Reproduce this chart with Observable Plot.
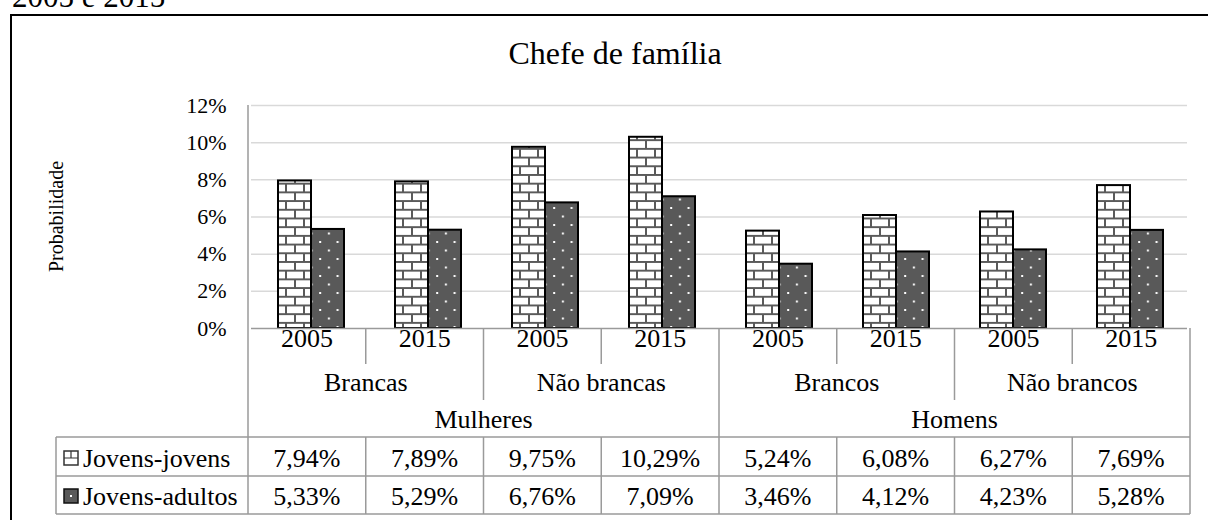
<!DOCTYPE html>
<html><head><meta charset="utf-8">
<script src="https://cdn.jsdelivr.net/npm/d3@7"></script>
<script src="https://cdn.jsdelivr.net/npm/@observablehq/plot@0.6"></script>
<style>
body{margin:0;background:#fff;}
#wrap{position:relative;width:1208px;height:520px;overflow:hidden;}
#wrap svg text{font-family:"Liberation Serif","Times New Roman",serif;}
</style></head><body><div id="wrap"></div>
<script>
// ---- data ----
const sexo = ["Mulheres","Mulheres","Mulheres","Mulheres","Homens","Homens","Homens","Homens"];
const raca = ["Brancas","Brancas","Não brancas","Não brancas","Brancos","Brancos","Não brancos","Não brancos"];
const anos = ["2005","2015","2005","2015","2005","2015","2005","2015"];
const series = ["Jovens-jovens","Jovens-adultos"];
const jovensJovens = [7.94, 7.89, 9.75, 10.29, 5.24, 6.08, 6.27, 7.69];
const jovensAdultos = [5.33, 5.29, 6.76, 7.09, 3.46, 4.12, 4.23, 5.28];
const yTicks = [0, 2, 4, 6, 8, 10, 12];
const titulo = "Chefe de família";
const yLabel = "Probabilidade";
const topoTexto = "2005 e 2015";

const keys = anos.map((a, i) => `${sexo[i]}|${raca[i]}|${a}`);
const rows = [];
keys.forEach((k, i) => {
  rows.push({key: k, serie: series[0], value: jovensJovens[i]});
  rows.push({key: k, serie: series[1], value: jovensAdultos[i]});
});

const W = 1208, H = 520, mL = 248, mR = 18, mT = 105, mB = 192;
const FONT = '"Liberation Serif", "Times New Roman", serif';
const LINE = "#9a9a9a";

const chart = Plot.plot({
  width: W, height: H,
  marginLeft: mL, marginRight: mR, marginTop: mT, marginBottom: mB,
  style: {fontFamily: FONT, fontSize: "22px", color: "#000", background: "transparent", overflow: "visible"},
  facet: {data: rows, x: "key"},
  fx: {domain: keys, padding: 0, axis: null, label: null},
  x: {domain: series, paddingInner: 0, paddingOuter: 0.73, align: 0.52, axis: null},
  y: {domain: [0, 12], ticks: yTicks, tickFormat: d => d + "%", tickSize: 0, tickPadding: 25, label: null},
  marks: [
    Plot.ruleY(yTicks.filter(d => d > 0), {stroke: "#d9d9d9", strokeWidth: 1.5}),
    Plot.barY(rows, {filter: d => d.serie === series[0], x: "serie", y: "value", fill: "url(#brick)", stroke: "#000", strokeWidth: 2}),
    Plot.barY(rows, {filter: d => d.serie === series[1], x: "serie", y: "value", fill: "url(#dots)", stroke: "#000", strokeWidth: 2}),
    Plot.ruleY([0], {stroke: LINE, strokeWidth: 1.5})
  ]
});
document.getElementById("wrap").appendChild(chart);

const svg = d3.select(chart);
// patterns
const defs = svg.insert("defs", ":first-child");
const pb = defs.append("pattern").attr("id", "brick").attr("patternUnits", "userSpaceOnUse")
  .attr("width", 18).attr("height", 17.4);
pb.append("rect").attr("width", 18).attr("height", 17.4).attr("fill", "#fff");
pb.append("path").attr("d", "M0,1H18M0,9.7H18M4,1V9.7M13,9.7V18.4").attr("stroke", "#5a5a5a").attr("stroke-width", 2).attr("fill", "none");
const pd = defs.append("pattern").attr("id", "dots").attr("patternUnits", "userSpaceOnUse")
  .attr("width", 17.4).attr("height", 17).attr("x", 0).attr("y", 0);
pd.append("rect").attr("width", 17.4).attr("height", 17).attr("fill", "#595959");
pd.append("rect").attr("x", 3).attr("y", 3).attr("width", 2).attr("height", 2).attr("fill", "#fff");
pd.append("rect").attr("x", 11.7).attr("y", 11.5).attr("width", 2).attr("height", 2).attr("fill", "#fff");

// scales from Plot
const fxs = chart.scale("fx");
const band = d3.scaleBand(fxs.domain, fxs.range).paddingInner(0).paddingOuter(0);
const ys = chart.scale("y");
const y = d3.scaleLinear(ys.domain, ys.range);
const x0 = band.range()[0], x1 = band.range()[1], bw = band.bandwidth();
const colL = k => band(k);
const colC = k => band(k) + bw / 2;

const g = svg.append("g").attr("fill", "#000");
const line = (xa, ya, xb, yb) => g.append("line").attr("x1", xa).attr("y1", ya).attr("x2", xb).attr("y2", yb)
  .attr("stroke", LINE).attr("stroke-width", 1.5);

const y0 = y(0), rYear = 364, rGroup = 400, rSex = 437, rD1 = 476, rD2 = 514, legL = 56;
// axis line and right border
line(x0, y(12), x0, rD2);
line(x1, y0, x1, rD2);
// column dividers
keys.forEach((k, i) => {
  if (i === 0) return;
  const xx = colL(k);
  let bottom = rYear;
  if (sexo[i] !== sexo[i - 1]) bottom = rD2;
  else if (raca[i] !== raca[i - 1]) bottom = rGroup;
  line(xx, y0, xx, bottom);
  if (bottom !== rD2) line(xx, rSex, xx, rD2);
});
// horizontal lines of data table
[rSex, rD1, rD2].forEach(yy => line(legL, yy, x1, yy));
line(legL, rSex, legL, rD2);

const txt = (t, xx, yy, size, anchor = "middle") => g.append("text").attr("x", xx).attr("y", yy)
  .attr("font-size", size).attr("text-anchor", anchor).text(t);

// year row
keys.forEach((k, i) => txt(anos[i], colC(k), 347, 26));
// group rows
const groupLabel = (arr, yy) => {
  const spans = [];
  arr.forEach((v, i) => {
    if (i === 0 || arr[i] !== arr[i - 1] || (arr === raca && sexo[i] !== sexo[i - 1])) spans.push({v, a: i, b: i});
    else spans[spans.length - 1].b = i;
  });
  spans.forEach(s => txt(s.v, (colL(keys[s.a]) + colL(keys[s.b]) + bw) / 2, yy, 26));
};
groupLabel(raca, 391);
groupLabel(sexo, 428);
// data values
const fmt = v => v.toFixed(2).replace(".", ",") + "%";
keys.forEach((k, i) => {
  txt(fmt(jovensJovens[i]), colC(k), 467, 26);
  txt(fmt(jovensAdultos[i]), colC(k), 505, 26);
});
// legend cells
txt(series[0], 83, 467, 26, "start");
txt(series[1], 83, 505, 26, "start");
const ic1 = g.append("g").attr("transform", "translate(64,451)");
ic1.append("rect").attr("width", 14).attr("height", 14).attr("fill", "#fff").attr("stroke", "#333").attr("stroke-width", 1.5);
ic1.append("path").attr("d", "M0,7H14M7,0V7").attr("stroke", "#333").attr("stroke-width", 1.2);
const ic2 = g.append("g").attr("transform", "translate(64,489)");
ic2.append("rect").attr("width", 14).attr("height", 14).attr("fill", "#595959").attr("stroke", "#111").attr("stroke-width", 1.5);
ic2.append("rect").attr("x", 6).attr("y", 6).attr("width", 2).attr("height", 2).attr("fill", "#fff");

// title, y label, clipped heading, frame
txt(titulo, 615, 64, 32);
g.append("text").attr("transform", `translate(63,${(y(0) + y(12)) / 2}) rotate(-90)`)
  .attr("font-size", 20).attr("text-anchor", "middle").text(yLabel);
txt(topoTexto, 12, 7, 31, "start");
g.append("rect").attr("x", 11).attr("y", 15).attr("width", 1400).attr("height", 700)
  .attr("fill", "none").attr("stroke", "#000").attr("stroke-width", 2);
</script>
</body></html>
